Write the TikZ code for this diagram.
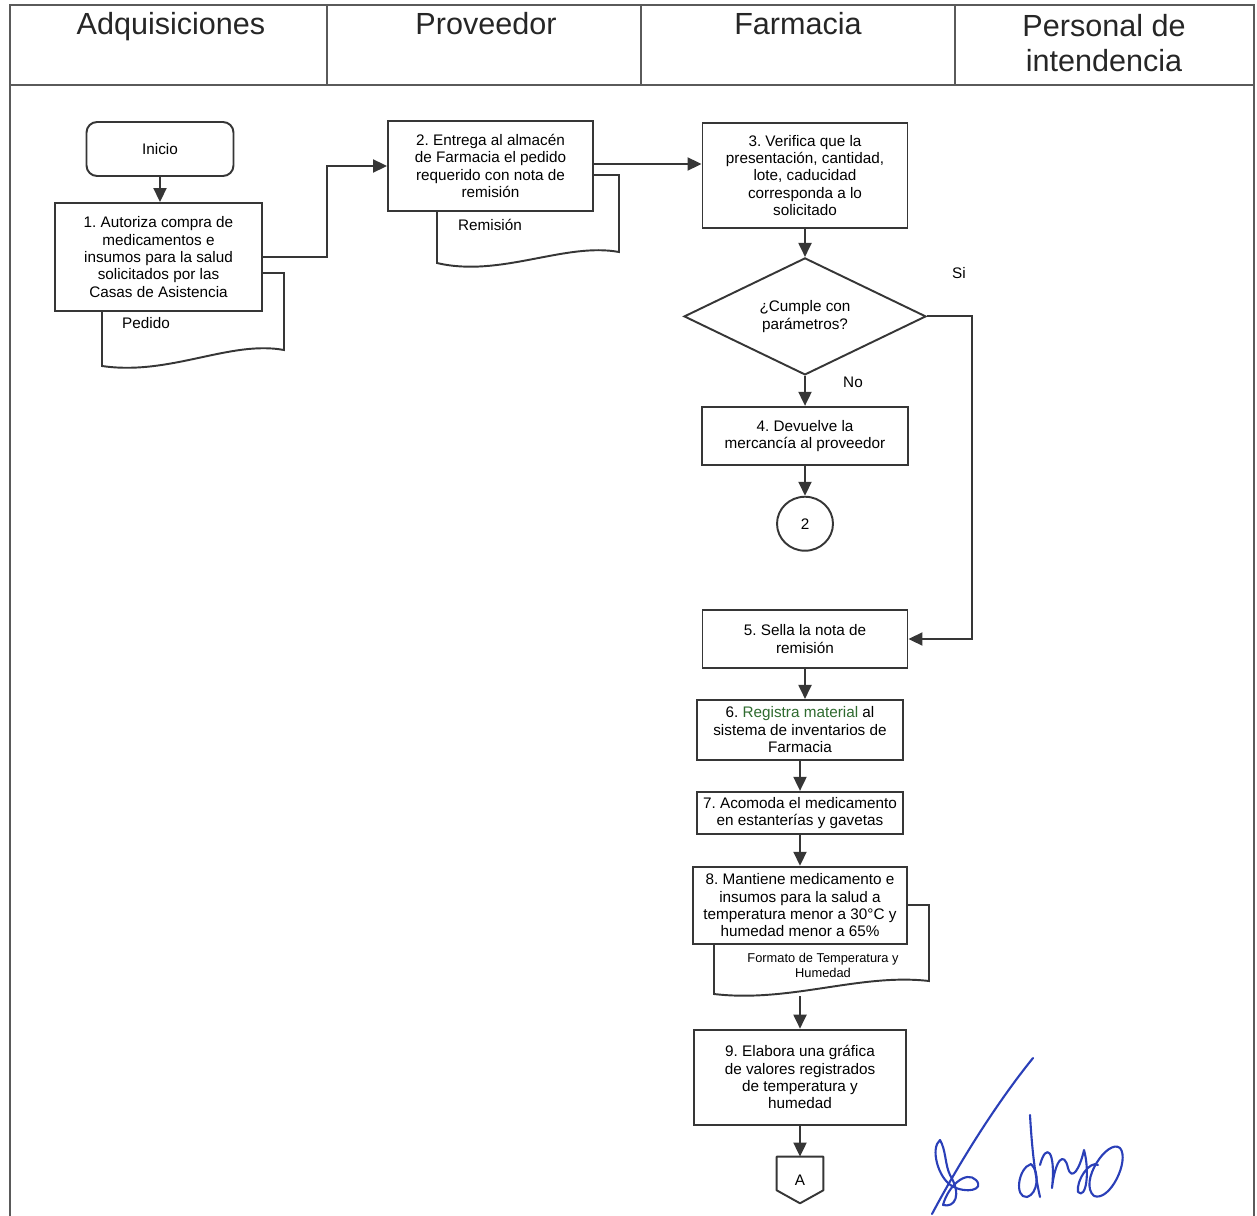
\documentclass[tikz,border=0pt]{standalone}
\usepackage{fontspec}
\setmainfont{Liberation Sans}
\usepackage{xcolor}
\definecolor{linea}{HTML}{363636}
\definecolor{marco}{HTML}{5A5A5A}
\definecolor{verde}{HTML}{2F6B2F}
\definecolor{firma}{HTML}{2A3FB8}
\usetikzlibrary{shapes.geometric,arrows.meta,positioning,calc}
\frenchspacing

\begin{document}
\begin{tikzpicture}[
  x=0.02cm, y=-0.02cm,
  node distance=0.6cm,
  paso/.style={
    rectangle, draw=linea, fill=white, line width=1.1pt, align=center,
    font=\fontsize{8.7}{9.9}\selectfont, inner sep=2pt
  },
  inicio/.style={paso, rounded corners=6pt},
  decision/.style={
    diamond, draw=linea, fill=white, line width=1.1pt, align=center,
    font=\fontsize{8.7}{9.9}\selectfont, inner sep=0pt, shape aspect=2.07,
    minimum width=4.84cm, minimum height=2.34cm
  },
  conector/.style={
    ellipse, draw=linea, line width=1.1pt, inner sep=0pt,
    font=\fontsize{8.7}{9.9}\selectfont, minimum width=1.12cm, minimum height=1.08cm
  },
  doc/.style={draw=linea, fill=white, line width=1.1pt},
  etiqueta/.style={font=\fontsize{8.7}{9.9}\selectfont, inner sep=1pt},
  encabezado/.style={font=\fontsize{17.4}{19.8}\selectfont, align=center, text=black!85, inner sep=0pt},
  flecha/.style={-{Triangle[length=0.28cm,width=0.26cm]}, draw=linea, line width=1.1pt},
  linea/.style={draw=linea, line width=1.1pt},
  firmatrazo/.style={draw=firma, line width=1.2pt, line cap=round, line join=round}
]
\useasboundingbox (0,0) rectangle (1257,1216);

% Marco y encabezado
\draw[marco, line width=0.9pt] (10,1216) |- (1254,5) -- (1254,1216);
\draw[marco, line width=1.4pt] (10,85) -- (1254,85);
\foreach \x in {327,641,955}
  \draw[marco, line width=0.9pt] (\x,5) -- (\x,85);
\node[encabezado, anchor=base] (adq) at (171,35) {Adquisiciones};
\node[encabezado, anchor=base] (prov) at (486,35) {Proveedor};
\node[encabezado, anchor=base] (farm) at (798,35) {Farmacia};
\node[encabezado, anchor=north] (pers) at (1104,14) {Personal de\\intendencia};

% Documentos (detras de los pasos)
\draw[doc] (102,273) -- (284,273) -- (284,350)
  .. controls (230,340) and (170,376) .. (102,366) -- cycle;
\draw[doc] (437,175) -- (619,175) -- (619,252)
  .. controls (565,242) and (500,278) .. (437,263) -- cycle;
\draw[doc] (714,905) -- (929,905) -- (929,981)
  .. controls (860,973) and (790,1003) .. (714,994) -- cycle;
\node[etiqueta] (pedido) at (146,323) {Pedido};
\node[etiqueta] (remision) at (490,225) {Remisión};
\node[etiqueta, font=\fontsize{7.3}{8.6}\selectfont, align=center] (formato) at (823,965)
  {Formato de Temperatura y\\Humedad};
\coordinate (fmtb) at (800,996);

% Pasos
\node[inicio, minimum width=2.94cm, minimum height=1.08cm] (ini) at (160,149) {Inicio};
\node[paso, minimum width=4.14cm, minimum height=2.16cm] (b1) at (158.5,257)
  {1. Autoriza compra de\\medicamentos e\\insumos para la salud\\solicitados por las\\Casas de Asistencia};
\node[paso, minimum width=4.1cm, minimum height=1.8cm] (b2) at (490.5,166)
  {2. Entrega al almacén\\de Farmacia el pedido\\requerido con nota de\\remisión};
\node[paso, minimum width=4.1cm, minimum height=2.1cm] (b3) at (805,175.5)
  {3. Verifica que la\\presentación, cantidad,\\lote, caducidad\\corresponda a lo\\solicitado};
\node[decision, below=0.56cm of b3] (d) {¿Cumple con\\parámetros?};
\node[paso, minimum width=4.12cm, minimum height=1.16cm, below=of d] (b4)
  {4. Devuelve la\\mercancía al proveedor};
\node[conector, below=of b4] (c2) {2};
\node[paso, minimum width=4.1cm, minimum height=1.16cm] (b5) at (805,639)
  {5. Sella la nota de\\remisión};
\node[paso, minimum width=4.12cm, minimum height=1.2cm, below=of b5, xshift=-0.1cm] (b6)
  {6. \textcolor{verde}{Registra material} al\\sistema de inventarios de\\Farmacia};
\node[paso, minimum width=4.12cm, minimum height=0.84cm, below=of b6] (b7)
  {7. Acomoda el medicamento\\en estanterías y gavetas};
\node[paso, minimum width=4.28cm, minimum height=1.54cm, below=0.62cm of b7] (b8)
  {8. Mantiene medicamento e\\insumos para la salud a\\temperatura menor a 30°C y\\humedad menor a 65\%};
\node[paso, minimum width=4.24cm, minimum height=1.9cm, below=1.68cm of b8] (b9)
  {9. Elabora una gráfica\\de valores registrados\\de temperatura y\\humedad};
\node[etiqueta, minimum width=0.92cm, minimum height=0.92cm, below=0.62cm of b9] (conA) {A};
\draw[linea, line join=round] (conA.north west) -- (conA.north east)
  -- ($(conA.south east)+(0,-13)$) -- (conA.south) -- ($(conA.south west)+(0,-13)$) -- cycle;

% Etiquetas de la decision
\node[etiqueta] (si) at (959,273) {Si};
\node[etiqueta] (no) at (853,382) {No};

% Flechas
\foreach \a/\b in {ini/b1, b3/d, d/b4, b4/c2, b5/b6, b6/b7, b7/b8, b9/conA}
  \draw[flecha] (\a.south) -- (\a.south |- \b.north);
\draw[flecha] (fmtb) -- (fmtb |- b9.north);
\draw[flecha] (b1.east) -- ++(64,0) |- (b2.west);
\draw[flecha] ($(b2.east)+(0,-2)$) -- ($(b2.east -| b3.west)+(0,-2)$);
\draw[flecha] (d.east) -- ++(45,0) |- (b5.east);

% Firma
\draw[firmatrazo] (1033,1058) .. controls (995,1105) and (958,1165) .. (932,1214);
\draw[firmatrazo] (940,1140) .. controls (930,1148) and (938,1178) .. (952,1186)
  .. controls (966,1194) and (985,1190) .. (976,1180)
  .. controls (966,1170) and (948,1186) .. (943,1205)
  .. controls (955,1208) and (962,1195) .. (950,1175)
  .. controls (945,1165) and (946,1150) .. (940,1140);
\draw[firmatrazo] (1030,1115) .. controls (1032,1150) and (1035,1175) .. (1040,1197);
\draw[firmatrazo] (1031,1164) .. controls (1018,1168) and (1014,1198) .. (1027,1197)
  .. controls (1038,1194) and (1040,1172) .. (1031,1164);
\draw[firmatrazo] (1040,1165) .. controls (1046,1142) and (1056,1150) .. (1052,1188)
  .. controls (1055,1160) and (1064,1150) .. (1068,1168)
  .. controls (1072,1182) and (1080,1168) .. (1084,1150)
  .. controls (1090,1172) and (1086,1200) .. (1078,1192)
  .. controls (1076,1180) and (1090,1160) .. (1098,1165);
\draw[firmatrazo] (1094,1196) .. controls (1078,1182) and (1108,1138) .. (1120,1148)
  .. controls (1130,1160) and (1110,1202) .. (1094,1196);
\end{tikzpicture}
\end{document}
